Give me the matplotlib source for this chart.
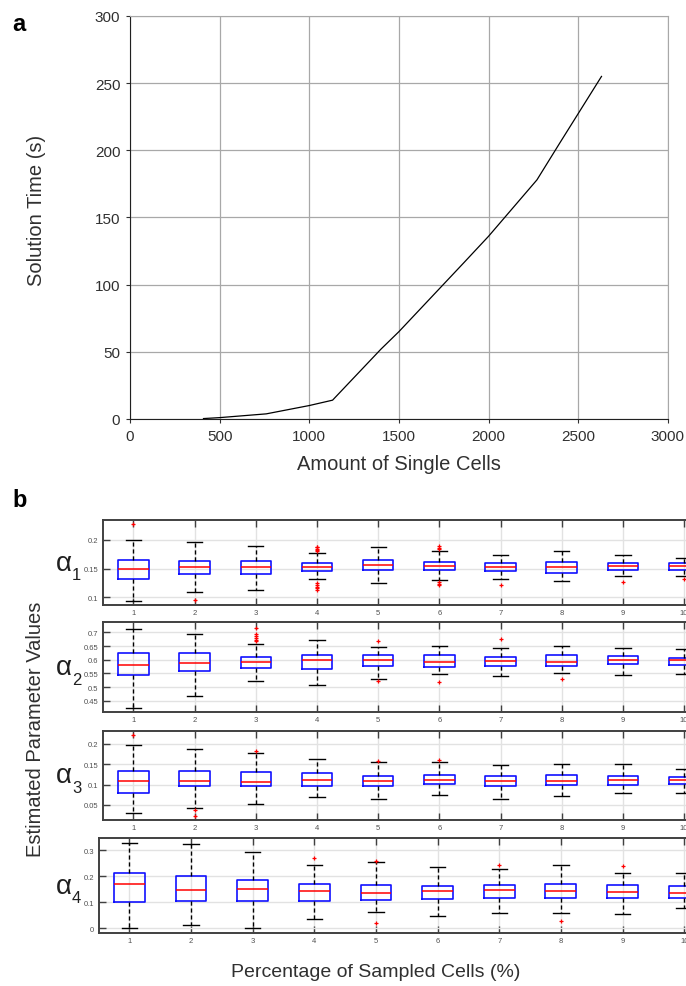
import matplotlib
matplotlib.use("Agg")
import matplotlib.pyplot as plt

plt.rcParams['font.family'] = ['Liberation Sans', 'DejaVu Sans']

# panel a: solution time vs amount of cells
cells = [410, 500, 760, 1000, 1130, 1400, 1500, 1860, 2000, 2270, 2400, 2630]
sol_time = [0.3, 1, 3.8, 10, 14, 52, 65, 116, 136, 178, 206, 255]

# panel b: box statistics per sampled percentage
pct = [1, 2, 3, 4, 5, 6, 7, 8, 9, 10]

a1_lo = [0.093, 0.109, 0.112, 0.131, 0.124, 0.130, 0.132, 0.128, 0.137, 0.137]
a1_q1 = [0.131, 0.140, 0.140, 0.145, 0.147, 0.148, 0.145, 0.143, 0.147, 0.148]
a1_med = [0.149, 0.152, 0.153, 0.152, 0.156, 0.155, 0.152, 0.153, 0.154, 0.154]
a1_q3 = [0.165, 0.163, 0.163, 0.159, 0.165, 0.162, 0.159, 0.162, 0.160, 0.159]
a1_hi = [0.200, 0.197, 0.190, 0.177, 0.188, 0.180, 0.174, 0.180, 0.174, 0.169]
a1_out = [[0.228], [0.095], [],
          [0.181, 0.183, 0.185, 0.187, 0.188, 0.124, 0.121, 0.118, 0.116, 0.113],
          [], [0.184, 0.186, 0.189, 0.127, 0.123, 0.121], [0.121], [], [0.127], [0.132]]

a2_lo = [0.423, 0.466, 0.524, 0.508, 0.529, 0.548, 0.541, 0.552, 0.543, 0.549]
a2_q1 = [0.543, 0.558, 0.571, 0.565, 0.578, 0.575, 0.577, 0.579, 0.583, 0.582]
a2_med = [0.582, 0.589, 0.593, 0.598, 0.598, 0.592, 0.595, 0.592, 0.599, 0.598]
a2_q3 = [0.624, 0.623, 0.611, 0.618, 0.616, 0.616, 0.611, 0.616, 0.615, 0.608]
a2_hi = [0.714, 0.696, 0.656, 0.671, 0.647, 0.652, 0.642, 0.651, 0.644, 0.640]
a2_out = [[], [], [0.717, 0.696, 0.688, 0.680, 0.673, 0.670], [], [0.670, 0.521],
          [0.519], [0.675], [0.528], [], []]

a3_lo = [0.031, 0.043, 0.052, 0.070, 0.064, 0.074, 0.065, 0.073, 0.080, 0.080]
a3_q1 = [0.080, 0.096, 0.097, 0.096, 0.097, 0.102, 0.097, 0.098, 0.100, 0.102]
a3_med = [0.109, 0.109, 0.106, 0.111, 0.109, 0.112, 0.109, 0.109, 0.110, 0.112]
a3_q3 = [0.132, 0.133, 0.130, 0.128, 0.121, 0.124, 0.122, 0.124, 0.121, 0.119]
a3_hi = [0.196, 0.188, 0.177, 0.163, 0.155, 0.155, 0.147, 0.150, 0.150, 0.138]
a3_out = [[0.222], [0.037, 0.022], [0.182], [], [0.157], [0.161], [], [], [], []]

a4_lo = [0.0, 0.013, 0.0, 0.035, 0.062, 0.049, 0.060, 0.058, 0.054, 0.077]
a4_q1 = [0.101, 0.104, 0.105, 0.106, 0.109, 0.113, 0.118, 0.115, 0.118, 0.117]
a4_med = [0.172, 0.147, 0.150, 0.144, 0.136, 0.142, 0.146, 0.142, 0.138, 0.136]
a4_q3 = [0.212, 0.201, 0.185, 0.169, 0.168, 0.164, 0.168, 0.172, 0.165, 0.162]
a4_hi = [0.329, 0.322, 0.292, 0.244, 0.254, 0.235, 0.226, 0.242, 0.212, 0.214]
a4_out = [[], [], [], [0.271], [0.258, 0.022], [], [0.242], [0.027], [0.238], []]

fig = plt.figure(figsize=(6.86, 9.87), dpi=100)

# ---- panel a
ax = fig.add_axes([0.1895, 0.5745, 0.784, 0.4083])
ax.plot(cells, sol_time, color='black', lw=0.9)
ax.set_xlim(0, 3000)
ax.set_ylim(0, 300)
ax.set_xticks(range(0, 3001, 500))
ax.set_yticks(range(0, 301, 50))
ax.grid(True, color='#a8a8a8', lw=0.9)
for s in ['top', 'right']:
    ax.spines[s].set_color('#a8a8a8')
for s in ['left', 'bottom']:
    ax.spines[s].set_color('#202020')
ax.tick_params(labelsize=11, length=3, pad=4, colors='#303030')
ax.set_xlabel('Amount of Single Cells', fontsize=14.5, color='#303030', labelpad=8)
ax.set_ylabel('Solution Time (s)', fontsize=14.5, color='#303030')
ax.yaxis.set_label_coords(-0.156, 0.52)
fig.text(0.018, 0.975, 'a', fontsize=17, fontweight='bold', va='center')

# ---- panel b
rows = [
    (a1_lo, a1_q1, a1_med, a1_q3, a1_hi, a1_out, (0.086, 0.235), [0.1, 0.15, 0.2],
     [0.1499, 0.386, 0.892, 0.0861], '1'),
    (a2_lo, a2_q1, a2_med, a2_q3, a2_hi, a2_out, (0.408, 0.737),
     [0.45, 0.5, 0.55, 0.6, 0.65, 0.7], [0.1499, 0.2773, 0.892, 0.0912], '2'),
    (a3_lo, a3_q1, a3_med, a3_q3, a3_hi, a3_out, (0.013, 0.232), [0.05, 0.1, 0.15, 0.2],
     [0.1499, 0.1682, 0.892, 0.0905], '3'),
    (a4_lo, a4_q1, a4_med, a4_q3, a4_hi, a4_out, (-0.018, 0.346), [0, 0.1, 0.2, 0.3],
     [0.1436, 0.0537, 0.8987, 0.096], '4'),
]

for lo, q1, med, q3, hi, out, ylim, yt, pos, idx in rows:
    bx = fig.add_axes(pos)
    stats = []
    for i in range(len(pct)):
        stats.append(dict(whislo=lo[i], q1=q1[i], med=med[i], q3=q3[i],
                          whishi=hi[i], fliers=out[i]))
    bx.bxp(stats, positions=pct, widths=0.5, manage_ticks=False,
           boxprops=dict(color='#1010ff', lw=1.2),
           medianprops=dict(color='red', lw=1.1),
           whiskerprops=dict(color='black', lw=1.0, ls=(0, (3, 2))),
           capprops=dict(color='black', lw=1.0),
           flierprops=dict(marker='+', markeredgecolor='red', markersize=2.5,
                           markeredgewidth=0.9, ls='none'))
    bx.set_xlim(0.5, 10.5)
    bx.set_ylim(*ylim)
    bx.set_xticks(pct)
    bx.set_xticklabels([str(p) for p in pct])
    bx.set_yticks(yt)
    bx.set_yticklabels([('%g' % v) for v in yt])
    bx.set_axisbelow(True)
    bx.grid(True, color='#e2e2e2', lw=1.0)
    for s in bx.spines.values():
        s.set_color('#404040')
        s.set_linewidth(1.4)
    bx.tick_params(direction='in', top=True, right=True, length=5, width=1.0,
                   color='#404040', labelsize=5.5, labelcolor='#505050', pad=3)
    p = bx.get_position()
    yc = p.y0 + p.height / 2
    fig.text(0.082, yc, 'α', fontsize=20, ha='left', va='center', color='#202020')
    fig.text(0.105, yc - 0.012, idx, fontsize=12, ha='left', va='center',
             color='#202020')

fig.text(0.018, 0.493, 'b', fontsize=17, fontweight='bold', va='center')
fig.text(0.052, 0.261, 'Estimated Parameter Values', rotation=90, fontsize=14.5,
         ha='center', va='center', color='#303030')
fig.text(0.548, 0.015, 'Percentage of Sampled Cells (%)', fontsize=14,
         ha='center', va='center', color='#303030')

fig.savefig('out.png', dpi=100)
